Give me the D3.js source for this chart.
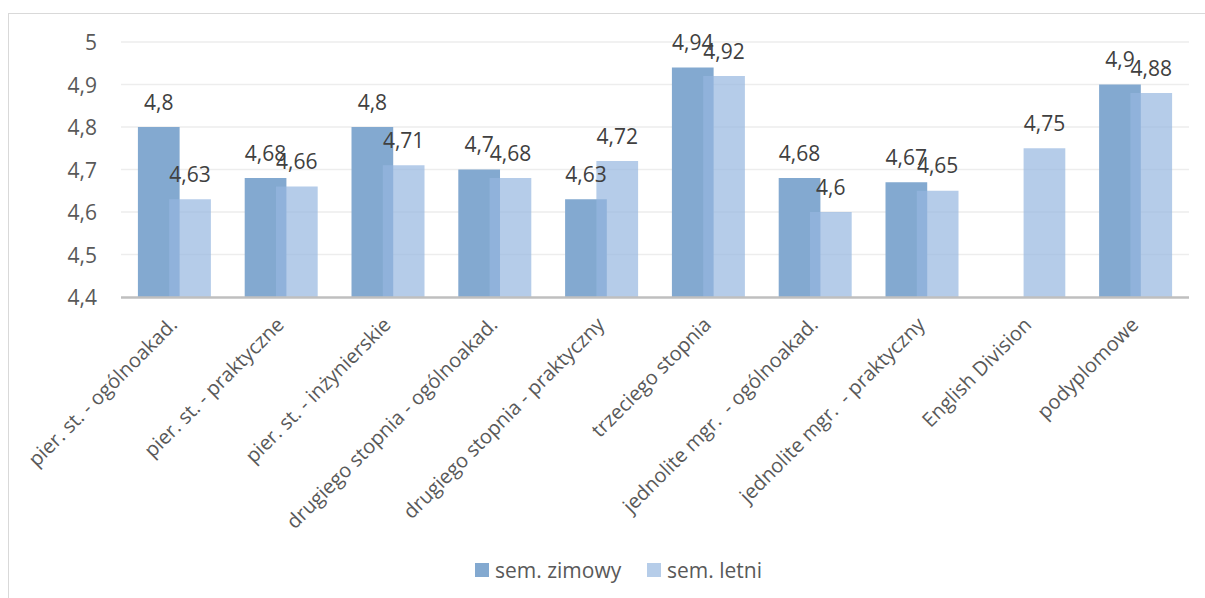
<!DOCTYPE html>
<html>
<head>
<meta charset="utf-8">
<script src="https://cdn.jsdelivr.net/npm/d3@7"></script>
<style>
  html, body { margin: 0; padding: 0; background: #fff; }
  svg { display: block; }
  text { font-family: "Open Sans", "Noto Sans", sans-serif; fill: #595959; }
</style>
</head>
<body>
<svg id="chart" width="1205" height="598"></svg>
<script>
// ---- data ----
const categories = [
  "pier. st. - ogólnoakad.",
  "pier. st. - praktyczne",
  "pier. st. - inżynierskie",
  "drugiego stopnia - ogólnoakad.",
  "drugiego stopnia - praktyczny",
  "trzeciego stopnia",
  "jednolite mgr.  - ogólnoakad.",
  "jednolite mgr.  - praktyczny",
  "English Division",
  "podyplomowe"
];
const semZimowy = [4.8, 4.68, 4.8, 4.7, 4.63, 4.94, 4.68, 4.67, null, 4.9];
const semLetni  = [4.63, 4.66, 4.71, 4.68, 4.72, 4.92, 4.6, 4.65, 4.75, 4.88];
const seriesNames = ["sem. zimowy", "sem. letni"];
const yTicks = [4.4, 4.5, 4.6, 4.7, 4.8, 4.9, 5];

// ---- layout ----
const plot = { left: 121, right: 1189, top: 42, bottom: 297 };
const colors = { zim: "#83A9D0", let: "rgba(149,182,223,0.7)", letSolid: "#B6CDE9" };
const fmt = v => String(v).replace(".", ",");

const svg = d3.select("#chart");

// outer chart border
svg.append("rect")
  .attr("x", 8.5).attr("y", 13.5)
  .attr("width", 1300).attr("height", 700)
  .attr("fill", "none").attr("stroke", "#D9D9D9").attr("stroke-width", 1);

const y = d3.scaleLinear().domain([4.4, 5]).range([plot.bottom, plot.top]);
const x = d3.scaleBand().domain(categories).range([plot.left, plot.right])
  .paddingInner(0.3165).paddingOuter(0.3165 / 2);
const overlap = 0.25;
const bw = x.bandwidth() / (2 - overlap);

// gridlines
svg.append("g").selectAll("line").data(yTicks.slice(1)).join("line")
  .attr("x1", plot.left).attr("x2", plot.right)
  .attr("y1", d => y(d)).attr("y2", d => y(d))
  .attr("stroke", "#EDEDED").attr("stroke-width", 1.5);

// y tick labels
svg.append("g").selectAll("text").data(yTicks).join("text")
  .attr("x", 97).attr("y", d => y(d))
  .attr("text-anchor", "end").attr("dominant-baseline", "central")
  .style("font-size", "21px")
  .text(fmt);

const rowsZ = categories.map((c, i) => ({ c, v: semZimowy[i] })).filter(d => d.v != null);
const rowsL = categories.map((c, i) => ({ c, v: semLetni[i] })).filter(d => d.v != null);

// bars
svg.append("g").selectAll("rect").data(rowsZ).join("rect")
  .attr("x", d => x(d.c)).attr("width", bw)
  .attr("y", d => y(d.v)).attr("height", d => y(4.4) - y(d.v))
  .attr("fill", colors.zim);
svg.append("g").selectAll("rect").data(rowsL).join("rect")
  .attr("x", d => x(d.c) + bw * (1 - overlap)).attr("width", bw)
  .attr("y", d => y(d.v)).attr("height", d => y(4.4) - y(d.v))
  .attr("fill", colors.let);

// x axis line
svg.append("line")
  .attr("x1", plot.left).attr("x2", plot.right)
  .attr("y1", plot.bottom + 0.5).attr("y2", plot.bottom + 0.5)
  .attr("stroke", "#BFBFBF").attr("stroke-width", 2.5);

// value labels
svg.append("g").selectAll("text").data(rowsZ).join("text")
  .attr("x", d => x(d.c) + bw / 2).attr("y", d => y(d.v) - 17.5)
  .attr("text-anchor", "middle").style("font-size", "21px")
  .style("fill", "#404040")
  .text(d => fmt(d.v));
svg.append("g").selectAll("text").data(rowsL).join("text")
  .attr("x", d => x(d.c) + bw * (1 - overlap) + bw / 2).attr("y", d => y(d.v) - 17.5)
  .attr("text-anchor", "middle").style("font-size", "21px")
  .style("fill", "#404040")
  .text(d => fmt(d.v));

// category labels
svg.append("g").selectAll("text").data(categories).join("text")
  .attr("transform", d => {
    const cx = x(d) + x.bandwidth() / 2 + 4;
    const cy = plot.bottom + 29;
    return `translate(${cx},${cy}) rotate(-45)`;
  })
  .attr("text-anchor", "end")
  .style("font-size", "20px")
  .style("white-space", "pre")
  .text(d => d);

// legend
const legend = svg.append("g");
const legItems = [
  { name: seriesNames[0], color: colors.zim, x: 475 },
  { name: seriesNames[1], color: colors.letSolid, x: 647 }
];
legItems.forEach(it => {
  legend.append("rect").attr("x", it.x).attr("y", 563).attr("width", 14).attr("height", 14).attr("fill", it.color);
  legend.append("text").attr("x", it.x + 20).attr("y", 570)
    .attr("dominant-baseline", "central").style("font-size", "21px").text(it.name);
});
</script>
</body>
</html>
